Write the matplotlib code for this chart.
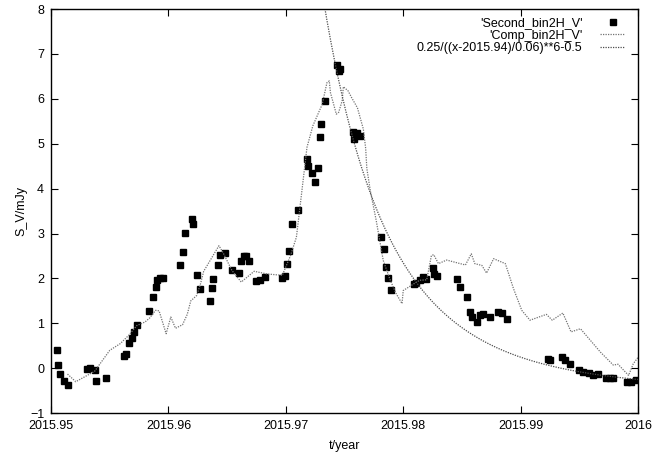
import numpy as np
import matplotlib
matplotlib.use("Agg")
import matplotlib.pyplot as plt

plt.rcParams['font.family'] = ['Liberation Sans', 'DejaVu Sans']
plt.rcParams['font.size'] = 9

# 'Second_bin2H_V' points
sec_t = [2015.9505, 2015.9506, 2015.9508, 2015.9511, 2015.9514, 2015.9531, 2015.9533, 2015.9537,
         2015.9538, 2015.9547, 2015.9562, 2015.9564, 2015.9566, 2015.9569, 2015.9571, 2015.9573,
         2015.9583, 2015.9587, 2015.9589, 2015.9590, 2015.9593, 2015.9595, 2015.9610, 2015.9612,
         2015.9614, 2015.9620, 2015.96205, 2015.9624, 2015.9627, 2015.9635, 2015.9637, 2015.9638,
         2015.9642, 2015.9644, 2015.9648, 2015.9654, 2015.9660, 2015.9662, 2015.9664, 2015.9666,
         2015.9669, 2015.9675, 2015.9678, 2015.9682, 2015.9697, 2015.9699, 2015.9701, 2015.9703,
         2015.9705, 2015.9710, 2015.9718, 2015.9719, 2015.9722, 2015.9725, 2015.9727, 2015.9729,
         2015.9730, 2015.9733, 2015.9744, 2015.9745, 2015.9746, 2015.9757, 2015.9758, 2015.9761,
         2015.9763, 2015.9781, 2015.9784, 2015.9785, 2015.9787, 2015.9790, 2015.9809, 2015.9811,
         2015.9814, 2015.9817, 2015.9819, 2015.9825, 2015.9826, 2015.9829, 2015.9846, 2015.9848,
         2015.9854, 2015.9857, 2015.9859, 2015.9863, 2015.9865, 2015.9868, 2015.9874, 2015.9881,
         2015.9884, 2015.9888, 2015.9923, 2015.9925, 2015.9935, 2015.9938, 2015.9942, 2015.9950,
         2015.9953, 2015.9958, 2015.9962, 2015.9966, 2015.9973, 2015.9976, 2015.9979, 2015.9991,
         2015.9994, 2015.9998]
sec_s = [0.40, 0.07, -0.13, -0.29, -0.37, -0.02, 0.00, -0.04,
         -0.28, -0.22, 0.27, 0.31, 0.56, 0.68, 0.81, 0.96,
         1.27, 1.58, 1.81, 1.96, 2.02, 2.01, 2.30, 2.58,
         3.01, 3.33, 3.22, 2.07, 1.76, 1.50, 1.78, 1.98,
         2.30, 2.52, 2.56, 2.18, 2.12, 2.40, 2.50, 2.50,
         2.40, 1.94, 1.96, 2.03, 2.01, 2.05, 2.32, 2.62,
         3.21, 3.52, 4.67, 4.50, 4.34, 4.14, 4.45, 5.14,
         5.44, 5.96, 6.76, 6.62, 6.67, 5.27, 5.10, 5.24,
         5.18, 2.92, 2.65, 2.25, 2.01, 1.74, 1.88, 1.90,
         1.96, 2.04, 1.98, 2.23, 2.10, 2.06, 1.98, 1.81,
         1.58, 1.25, 1.14, 1.03, 1.18, 1.20, 1.14, 1.25,
         1.24, 1.10, 0.21, 0.18, 0.25, 0.19, 0.10, -0.04,
         -0.08, -0.10, -0.16, -0.13, -0.21, -0.22, -0.22, -0.30,
         -0.30, -0.27]

# 'Comp_bin2H_V' line
comp_t = [2015.9514, 2015.9521, 2015.9537, 2015.9550, 2015.9559, 2015.9566, 2015.9573, 2015.9580,
          2015.9584, 2015.9589, 2015.9592, 2015.9598, 2015.9602, 2015.9606, 2015.9612, 2015.9616,
          2015.9619, 2015.9624, 2015.9627, 2015.9630, 2015.9643, 2015.9647, 2015.9654, 2015.9662,
          2015.9673, 2015.9684, 2015.9697, 2015.9704, 2015.9709, 2015.9712, 2015.9716, 2015.9718,
          2015.9723, 2015.9731, 2015.9735, 2015.9737, 2015.9738, 2015.9743, 2015.9745, 2015.9748,
          2015.9749, 2015.9753, 2015.9756, 2015.9761, 2015.9766, 2015.9768, 2015.9769, 2015.9772,
          2015.9777, 2015.9780, 2015.9783, 2015.9789, 2015.9794, 2015.9799, 2015.9800, 2015.9809,
          2015.9814, 2015.9820, 2015.9824, 2015.9826, 2015.9830, 2015.9837, 2015.9853, 2015.9858,
          2015.9861, 2015.9867, 2015.9871, 2015.9877, 2015.9887, 2015.9894, 2015.9901, 2015.9908,
          2015.9922, 2015.9927, 2015.9936, 2015.9943, 2015.9951, 2015.9968, 2015.9979, 2015.9983,
          2015.9992, 2015.9996, 2016.0000]
comp_s = [-0.13, -0.30, -0.07, 0.40, 0.55, 0.73, 0.95, 1.03,
          1.12, 1.29, 1.28, 0.77, 1.14, 0.89, 0.97, 1.20,
          1.50, 1.62, 1.85, 2.16, 2.73, 2.55, 2.18, 1.92,
          2.16, 2.10, 2.07, 2.51, 2.92, 3.58, 4.47, 4.92,
          5.40, 5.88, 6.36, 6.40, 6.14, 5.66, 5.70, 5.96,
          6.27, 6.18, 6.03, 5.80, 5.33, 4.90, 4.45, 3.95,
          3.29, 2.84, 2.40, 1.96, 1.66, 1.44, 1.73, 1.88,
          1.96, 1.97, 2.51, 2.53, 2.33, 2.41, 2.30, 2.55,
          2.33, 2.29, 2.12, 2.44, 2.33, 1.77, 1.29, 1.07,
          1.20, 1.07, 1.23, 0.81, 0.88, 0.36, 0.07, 0.09,
          -0.16, 0.10, 0.24]

# power law from the legend: 0.25/((x-2015.94)/0.06)**6-0.5
amp, t0, scale, power, offset = 0.25, 2015.94, 0.06, 6, -0.5

x_ticks = [2015.95, 2015.96, 2015.97, 2015.98, 2015.99, 2016]
x_labels = ['2015.95', '2015.96', '2015.97', '2015.98', '2015.99', '2016']
y_ticks = list(range(-1, 9))

fig = plt.figure(figsize=(6.55, 4.55), dpi=100)
ax = fig.add_axes([0.078, 0.092, 0.896, 0.888])

ax.plot(sec_t, sec_s, 's', color='black', markersize=5, linestyle='none',
        label="'Second_bin2H_V'")
ax.plot(comp_t, comp_s, color='0.45', lw=0.9, linestyle=(0, (1, 1)),
        label="'Comp_bin2H_V'")
tt = np.linspace(2015.972, 2016.0, 600)
ax.plot(tt, amp / ((tt - t0) / scale) ** power + offset, color='0.3', lw=0.9,
        linestyle=(0, (1, 1)), label='0.25/((x-2015.94)/0.06)**6-0.5')

ax.set_xlim(2015.95, 2016)
ax.set_ylim(-1, 8)
ax.set_xticks(x_ticks)
ax.set_xticklabels(x_labels)
ax.set_yticks(y_ticks)
ax.tick_params(direction='in', top=True, right=True, length=5, width=0.8, pad=5)
for sp in ax.spines.values():
    sp.set_linewidth(1.0)
ax.set_xlabel('t/year', labelpad=6)
ax.set_ylabel('S_V/mJy', labelpad=2)

leg = ax.legend(loc='upper right', bbox_to_anchor=(0.978, 0.98), frameon=False,
                markerfirst=False, handlelength=2.0, handletextpad=1.4,
                labelspacing=0.04, borderpad=0.0, borderaxespad=0.0)

fig.savefig('out.png', dpi=100)
